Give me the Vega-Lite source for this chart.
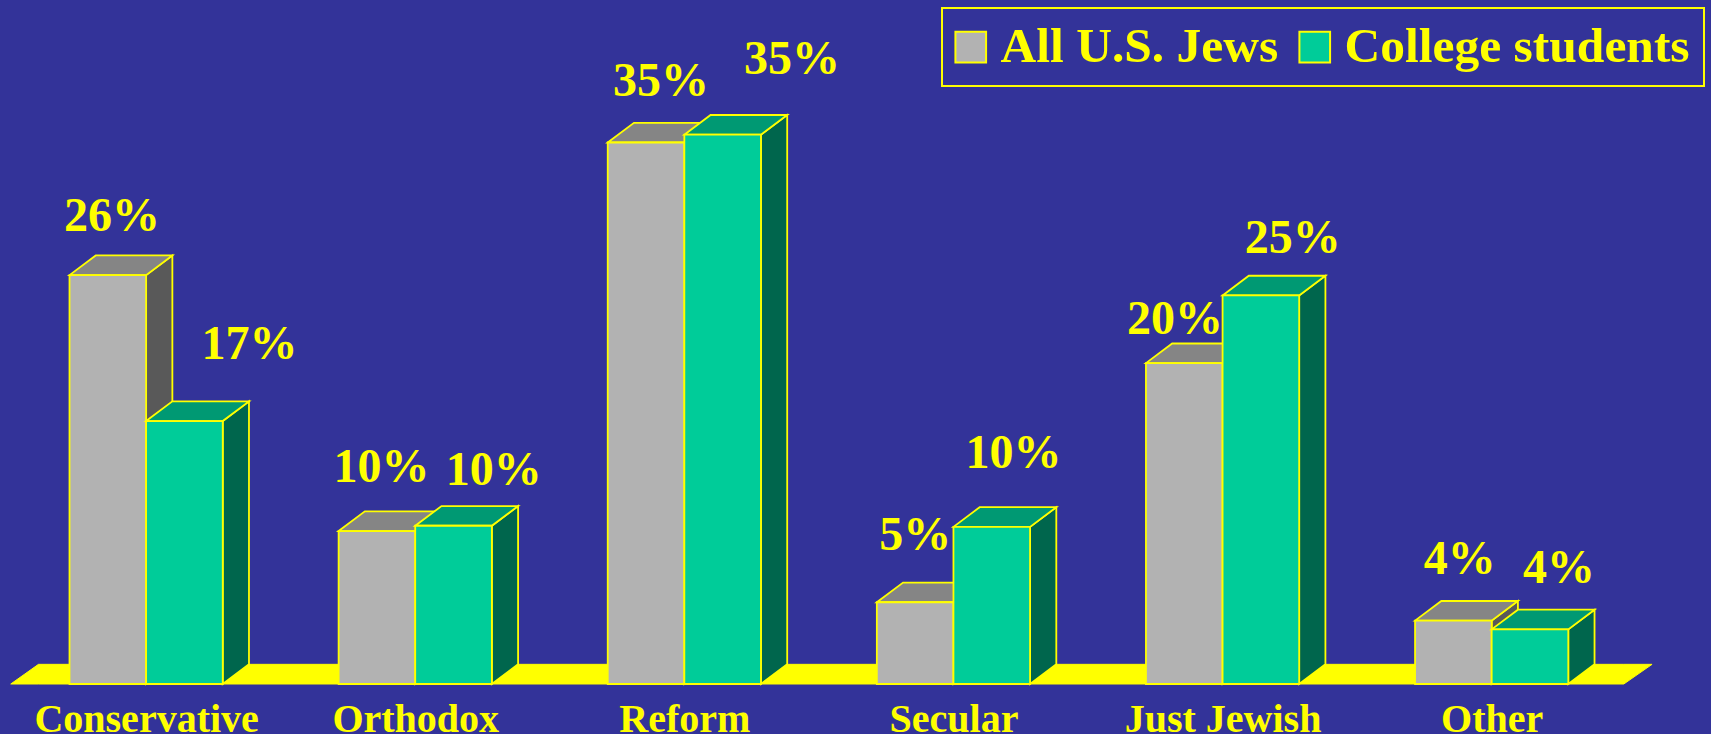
{
"$schema":"https://vega.github.io/schema/vega-lite/v6.json",
"width":1711,"height":684,"padding":{"left":0,"top":0,"right":0,"bottom":50},"autosize":{"type":"none"},
"background":"#333399",
"config":{"view":{"stroke":null},"font":"Liberation Serif","legend":{"strokeWidth":2}},
"data":{"values":[
{"category":"Conservative","series":"All U.S. Jews","value":26.2,"label":"26%"},
{"category":"Conservative","series":"College students","value":16.85,"label":"17%"},
{"category":"Orthodox","series":"All U.S. Jews","value":9.8,"label":"10%"},
{"category":"Orthodox","series":"College students","value":10.14,"label":"10%"},
{"category":"Reform","series":"All U.S. Jews","value":34.7,"label":"35%"},
{"category":"Reform","series":"College students","value":35.2,"label":"35%"},
{"category":"Secular","series":"All U.S. Jews","value":5.24,"label":"5%"},
{"category":"Secular","series":"College students","value":10.07,"label":"10%"},
{"category":"Just Jewish","series":"All U.S. Jews","value":20.56,"label":"20%"},
{"category":"Just Jewish","series":"College students","value":24.9,"label":"25%"},
{"category":"Other","series":"All U.S. Jews","value":4.06,"label":"4%"},
{"category":"Other","series":"College students","value":3.5,"label":"4%"}
]},
"transform":[
{"calculate":"indexof(['Conservative','Orthodox','Reform','Secular','Just Jewish','Other'],datum.category)","as":"idx"},
{"calculate":"datum.series==='All U.S. Jews'?0:1","as":"s"},
{"calculate":"datum.idx-0.2847+datum.s*0.2847","as":"x0"},
{"calculate":"datum.x0+0.2847","as":"x1"}
],
"encoding":{
"x":{"field":"px","type":"quantitative","scale":{"domain":[-0.543,5.815],"nice":false,"zero":false},
"axis":{"values":[0,1,2,3,4,5],"labelExpr":"['Conservative','Orthodox','Reform','Secular','Just Jewish','Other'][datum.value]","title":null,"domain":false,"ticks":false,"grid":false,"labelFont":"Liberation Serif","labelFontWeight":"bold","labelFontSize":40,"labelColor":"#FFFF00","labelPadding":15,"labelOverlap":false,"labelFlush":false,"labelBound":false,"labelLimit":400}},
"y":{"field":"yhi","type":"quantitative","scale":{"domain":[0,43.83],"nice":false,"zero":false},"axis":null}
},
"layer":[
{"data":{"values":[{"px":-0.503,"ylo":0,"yhi":0},{"px":-0.4,"ylo":0,"yhi":1.26},{"px":5.491,"ylo":0,"yhi":1.26},{"px":5.596,"ylo":1.26,"yhi":1.26}]},
 "transform":[],
 "mark":{"type":"area","fill":"#FFFF00","stroke":"#FFFF00","strokeWidth":1},
 "encoding":{"y2":{"field":"ylo"}}},
{"transform":[{"filter":"datum.s===0"},{"calculate":"[0,1]","as":"t"},{"flatten":["t"]},{"calculate":"datum.x1+datum.t*0.0975","as":"px"},{"calculate":"datum.t*1.26","as":"ylo"},{"calculate":"datum.value+datum.t*1.26","as":"yhi"}],
 "mark":{"type":"area","fill":"#595959","stroke":"#FFFF00","strokeWidth":1.8},
 "encoding":{"y2":{"field":"ylo"},"detail":{"field":"category"}}},
{"transform":[{"filter":"datum.s===0"},{"calculate":"[0,1,2,3]","as":"t"},{"flatten":["t"]},{"calculate":"datum.t==0?datum.x0:datum.t==1?datum.x0+0.0975:datum.t==2?datum.x1:datum.x1+0.0975","as":"px"},{"calculate":"datum.value+(datum.t==3?1.26:0)","as":"ylo"},{"calculate":"datum.value+(datum.t>0?1.26:0)","as":"yhi"}],
 "mark":{"type":"area","fill":"#858585","stroke":"#FFFF00","strokeWidth":1.8},
 "encoding":{"y2":{"field":"ylo"},"detail":{"field":"category"}}},
{"transform":[{"filter":"datum.s===0"},{"calculate":"datum.x0","as":"px"},{"calculate":"datum.x1","as":"px2"},{"calculate":"datum.value","as":"yhi"},{"calculate":"0","as":"ylo"}],
 "mark":{"type":"rect","stroke":"#FFFF00","strokeWidth":1.8},
 "encoding":{"x2":{"field":"px2"},"y2":{"field":"ylo"},
 "color":{"field":"series","type":"nominal","scale":{"domain":["All U.S. Jews","College students"],"range":["#B2B2B2","#00CC99"]},
 "legend":{"title":null,"orient":"none","legendX":942,"legendY":8,"direction":"horizontal","columns":2,"padding":14,"strokeColor":"#FFFF00","symbolType":"square","symbolSize":940,"symbolOffset":-10,"symbolStrokeColor":"#FFFF00","symbolStrokeWidth":2,"labelFont":"Liberation Serif","labelFontWeight":"bold","labelFontSize":49.5,"labelColor":"#FFFF00","labelLimit":500,"labelOffset":5,"columnPadding":16}}}},
{"transform":[{"filter":"datum.s===1"},{"calculate":"[0,1]","as":"t"},{"flatten":["t"]},{"calculate":"datum.x1+datum.t*0.0975","as":"px"},{"calculate":"datum.t*1.26","as":"ylo"},{"calculate":"datum.value+datum.t*1.26","as":"yhi"}],
 "mark":{"type":"area","fill":"#00664D","stroke":"#FFFF00","strokeWidth":1.8},
 "encoding":{"y2":{"field":"ylo"},"detail":{"field":"category"}}},
{"transform":[{"filter":"datum.s===1"},{"calculate":"[0,1,2,3]","as":"t"},{"flatten":["t"]},{"calculate":"datum.t==0?datum.x0:datum.t==1?datum.x0+0.0975:datum.t==2?datum.x1:datum.x1+0.0975","as":"px"},{"calculate":"datum.value+(datum.t==3?1.26:0)","as":"ylo"},{"calculate":"datum.value+(datum.t>0?1.26:0)","as":"yhi"}],
 "mark":{"type":"area","fill":"#009973","stroke":"#FFFF00","strokeWidth":1.8},
 "encoding":{"y2":{"field":"ylo"},"detail":{"field":"category"}}},
{"transform":[{"filter":"datum.s===1"},{"calculate":"datum.x0","as":"px"},{"calculate":"datum.x1","as":"px2"},{"calculate":"datum.value","as":"yhi"},{"calculate":"0","as":"ylo"}],
 "mark":{"type":"rect","stroke":"#FFFF00","strokeWidth":1.8},
 "encoding":{"x2":{"field":"px2"},"y2":{"field":"ylo"},
 "color":{"field":"series","type":"nominal","scale":{"domain":["All U.S. Jews","College students"],"range":["#B2B2B2","#00CC99"]}}}},
{"transform":[{"calculate":"[-0.127,0.384,0.875,1.292,1.913,2.400,2.858,3.223,3.823,4.261,4.881,5.250][datum.idx*2+datum.s]","as":"px"},{"calculate":"[29.9,21.72,13.82,13.68,38.6,40.0,9.48,14.73,23.33,28.51,7.94,7.38][datum.idx*2+datum.s]","as":"yhi"}],
 "mark":{"type":"text","font":"Liberation Serif","fontWeight":"bold","fontSize":48,"color":"#FFFF00","align":"center","baseline":"middle"},
 "encoding":{"text":{"field":"label"}}}
]
}
